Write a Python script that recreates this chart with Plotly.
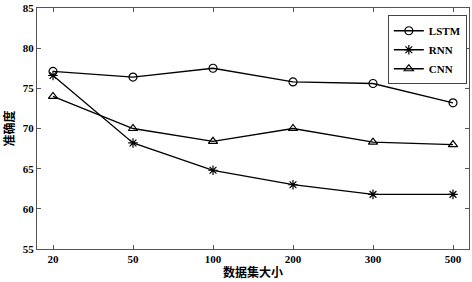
import plotly.graph_objects as go

categories = ["20", "50", "100", "200", "300", "500"]
lstm = [77.1, 76.4, 77.5, 75.8, 75.6, 73.2]
rnn = [76.6, 68.2, 64.8, 63.0, 61.8, 61.8]
cnn = [74.0, 70.0, 68.4, 70.0, 68.3, 68.0]
y_ticks = [55, 60, 65, 70, 75, 80, 85]

fig = go.Figure()
specs = [("LSTM", lstm, "circle-open"), ("RNN", rnn, "asterisk-open"), ("CNN", cnn, "triangle-up-open")]
for name, vals, sym in specs:
    fig.add_trace(go.Scatter(
        x=categories, y=vals, name=name, mode="lines+markers",
        line=dict(color="black", width=1.3),
        marker=dict(symbol=sym, size=8, color="black", line=dict(color="black", width=1.2)),
    ))

font_main = "Liberation Serif"
fig.update_layout(
    width=472, height=282,
    margin=dict(l=37, r=2, t=5, b=33),
    paper_bgcolor="white", plot_bgcolor="white",
    font=dict(family=font_main, size=11, color="black"),
    showlegend=True,
    legend=dict(
        x=0.995, y=0.97, xanchor="right", yanchor="top",
        bordercolor="#444", borderwidth=1, bgcolor="white",
        font=dict(family=font_main, size=11, color="black", weight="bold"),
        tracegroupgap=0, itemwidth=30,
    ),
)
fig.update_xaxes(
    type="category", range=[-0.2, 5.2],
    showline=True, linecolor="#555", linewidth=1, mirror="ticks",
    ticks="inside", ticklen=4, tickcolor="#555",
    showgrid=False, zeroline=False,
    tickfont=dict(family=font_main, size=11, color="black", weight="bold"),
    title=dict(text="数据集大小", font=dict(family="Noto Sans CJK SC", size=12, color="black", weight="bold"), standoff=4),
)
fig.update_yaxes(
    range=[55, 85], tickvals=y_ticks,
    showline=True, linecolor="#555", linewidth=1, mirror="ticks",
    ticks="inside", ticklen=4, tickcolor="#555",
    showgrid=False, zeroline=False, ticklabeloverflow="allow",
    tickfont=dict(family=font_main, size=11, color="black", weight="bold"),
    title=dict(text="准确度", font=dict(family="Noto Sans CJK SC", size=12, color="black", weight="bold"), standoff=6),
)
fig.write_html(
    "out.html",
    config={"displayModeBar": False},
    post_script="document.body.style.margin='0';document.body.style.overflow='hidden';",
)
